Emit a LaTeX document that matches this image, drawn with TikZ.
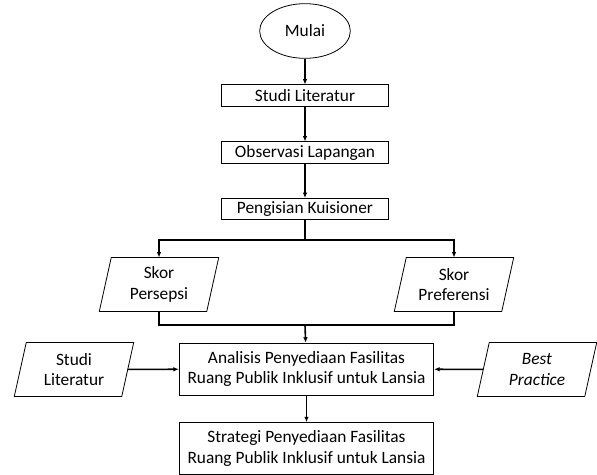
\documentclass[tikz,border=0pt]{standalone}
\usepackage{fontspec}
\setmainfont{Carlito}
\usetikzlibrary{arrows.meta,shapes.geometric,calc}

\tikzset{
    prosesbox/.style={draw,line width=0.6pt,align=center,font=\fontsize{13}{15.5}\selectfont,inner sep=0pt},
    langkah/.style={prosesbox,minimum width=125pt,minimum height=16pt},
    duabaris/.style={execute at begin node={\rule{0pt}{15pt}}},
    besar/.style={prosesbox,duabaris,minimum width=191pt,minimum height=39pt},
    datain/.style={prosesbox,duabaris,draw=none,minimum width=80pt,minimum height=40pt},
    alur/.style={line width=1.2pt},
    panah/.style={alur,-{Latex[length=4pt,width=3.5pt]}}
}
\newcommand{\jajargenjang}[1]{%
    \draw[line width=0.6pt] ($(#1.south west)+(-6,0)$) -- ($(#1.north west)+(6,0)$)
        -- ($(#1.north east)+(6,0)$) -- ($(#1.south east)+(-6,0)$) -- cycle;}

\begin{document}
\begin{tikzpicture}[x=0.75pt,y=-0.75pt]
    \useasboundingbox (0,0) rectangle (597,475);

    \node[prosesbox,ellipse,minimum width=68pt,minimum height=41pt] (mulai) at (305,31) {Mulai};
    \node[langkah] (studi) at (305,95.5) {Studi Literatur};
    \node[langkah] (observasi) at (305,152.5) {Observasi Lapangan};
    \node[langkah] (kuisioner) at (305,209) {Pengisian Kuisioner};

    \node[datain] (persepsi) at (159,284.5) {Skor\\Persepsi};
    \node[datain] (preferensi) at (454,284.5) {Skor\\Preferensi};

    \node[besar] (analisis) at (306.5,369) {Analisis Penyediaan Fasilitas\\Ruang Publik Inklusif untuk Lansia};
    \node[besar] (strategi) at (306.5,448.5) {Strategi Penyediaan Fasilitas\\Ruang Publik Inklusif untuk Lansia};

    \node[datain] (literatur) at (74,369.5) {Studi\\Literatur};
    \node[datain] (best) at (537,369.5) {\textit{Best}\\\textit{Practice}};

    \jajargenjang{persepsi}
    \jajargenjang{preferensi}
    \jajargenjang{literatur}
    \jajargenjang{best}

    \coordinate (cabang) at (305,240);
    \coordinate (gabung) at (305,325);

    \draw[panah] (mulai) -- (studi);
    \draw[panah] (studi) -- (observasi);
    \draw[panah] (observasi) -- (kuisioner);
    \draw[alur] (kuisioner) -- (cabang);
    \draw[panah] (cabang) -| (persepsi);
    \draw[panah] (cabang) -| (preferensi);
    \draw[alur] (persepsi) |- (gabung);
    \draw[alur] (preferensi) |- (gabung);
    \draw[panah] (gabung) -- (analisis);
    \draw[panah] (literatur) -- (analisis);
    \draw[panah] (best) -- (analisis);
    \draw[panah] (analisis) -- (strategi);
\end{tikzpicture}
\end{document}
